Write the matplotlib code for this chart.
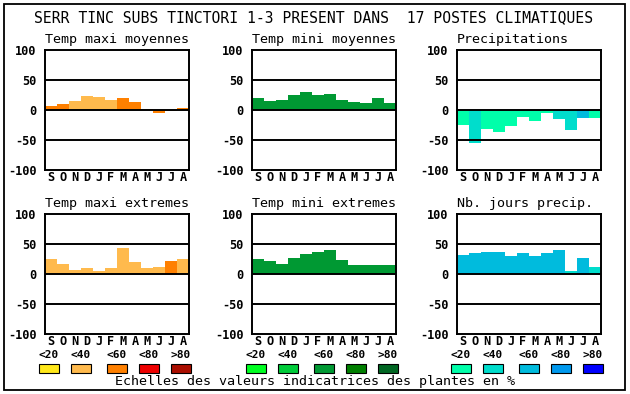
import matplotlib
matplotlib.use("Agg")
import matplotlib.pyplot as plt
from matplotlib.patches import Rectangle

W, H = 630, 394

title = "SERR TINC SUBS TINCTORI 1-3 PRESENT DANS  17 POSTES CLIMATIQUES"
months = ["S", "O", "N", "D", "J", "F", "M", "A", "M", "J", "J", "A"]
yticks = [-100, -50, 0, 50, 100]
scale_labels = ["<20", "<40", "<60", "<80", ">80"]
footer = "Echelles des valeurs indicatrices des plantes en %"

pal_orange = ["#FFE81A", "#FFBA4D", "#FF8000", "#EE0000", "#AA0E00"]
pal_green = ["#00FF22", "#00CC3A", "#009933", "#007F00", "#006622"]
pal_blue = ["#00FFAA", "#00DDCC", "#00BBDD", "#0099EE", "#0000FF"]

# values per month and colour classes (0..4)
tmax_moy = [7, 10.5, 15, 23, 21.7, 16.7, 20, 13.3, 2, -4.4, -2, 3.3]
tmax_moy_cls = [2, 2, 1, 1, 1, 1, 2, 2, 2, 2, 2, 2]
tmin_moy = [20, 15, 16.7, 25, 30, 25, 26.7, 16.7, 13.3, 11.7, 20, 11.7]
tmin_moy_cls = [2] * 12
precip = [-24.4, -54.4, -31, -36, -26, -11, -18, -4.4, -14.4, -33, -12.8, -12.8]
precip_cls = [0, 1, 0, 0, 0, 0, 0, 0, 1, 1, 2, 0]
tmax_ext = [25, 16.7, 6.7, 10, 5, 10, 43.3, 20, 10, 11.7, 21.7, 25]
tmax_ext_cls = [1, 1, 1, 1, 1, 1, 1, 1, 1, 1, 2, 1]
tmin_ext = [25, 21.7, 16.7, 26.7, 33.3, 36.7, 40, 23.3, 15, 15, 15, 15]
tmin_ext_cls = [2] * 12
nb_jours = [31.7, 35, 36.7, 36.7, 30, 35, 30, 35, 40, 5, 26.7, 11.7]
nb_jours_cls = [2, 2, 2, 2, 2, 2, 2, 2, 2, 1, 2, 1]

panels = [
    ("Temp maxi moyennes", tmax_moy, tmax_moy_cls, pal_orange, 45, 50),
    ("Temp mini moyennes", tmin_moy, tmin_moy_cls, pal_green, 252, 50),
    ("Precipitations", precip, precip_cls, pal_blue, 457, 50),
    ("Temp maxi extremes", tmax_ext, tmax_ext_cls, pal_orange, 45, 214),
    ("Temp mini extremes", tmin_ext, tmin_ext_cls, pal_green, 252, 214),
    ("Nb. jours precip.", nb_jours, nb_jours_cls, pal_blue, 457, 214),
]

MONO = "DejaVu Sans Mono"
fig = plt.figure(figsize=(W / 100, H / 100), dpi=100)
fig.patch.set_facecolor("white")


def fx(x):
    return x / W


def fy(y):
    return 1 - y / H


# outer frame
fig.add_artist(Rectangle((fx(4), fy(390)), fx(621), (386) / H, fill=False,
                         edgecolor="black", linewidth=1.3, transform=fig.transFigure))

fig.text(fx(314), fy(18), title, family=MONO, fontsize=10.6, ha="center", va="center")

aw, ah = 144, 120
for name, vals, cls, pal, x0, y0 in panels:
    ax = fig.add_axes([fx(x0), fy(y0 + ah), aw / W, ah / H])
    xs = [i + 0.5 for i in range(12)]
    ax.bar(xs, vals, width=1.0, color=[pal[c] for c in cls], linewidth=0, zorder=2)
    for yv in (-50, 0, 50):
        ax.axhline(yv, color="black", linewidth=1.4, zorder=3)
    ax.set_xlim(0, 12)
    ax.set_ylim(-100, 100)
    ax.set_yticks(yticks)
    ax.set_yticklabels([str(v) for v in yticks], family=MONO, fontweight="bold", fontsize=8.6)
    ax.set_xticks(xs)
    ax.set_xticklabels(months, family=MONO, fontweight="bold", fontsize=8.6)
    ax.tick_params(length=0)
    ax.tick_params(axis="x", pad=1)
    ax.tick_params(axis="y", pad=6)
    for s in ax.spines.values():
        s.set_linewidth(1.4)
    fig.text(fx(x0), fy(y0 - 11), name, family=MONO, fontsize=9.6, ha="left", va="center")

# legends
leg_x = [
    [39, 71, 107, 139, 171],
    [246, 278, 314, 346, 378],
    [451, 483, 519, 551, 583],
]
for pal, xs in zip([pal_orange, pal_green, pal_blue], leg_x):
    for lab, col, x in zip(scale_labels, pal, xs):
        fig.text(fx(x + 10), fy(355), lab, family=MONO, fontweight="bold", fontsize=8.0,
                 ha="center", va="center")
        fig.add_artist(Rectangle((fx(x), fy(373)), 20 / W, 9 / H, facecolor=col,
                                 edgecolor="black", linewidth=0.8, transform=fig.transFigure))

fig.text(fx(315), fy(382), footer, family=MONO, fontsize=9.6, ha="center", va="center")

fig.savefig("out.png", dpi=100)
